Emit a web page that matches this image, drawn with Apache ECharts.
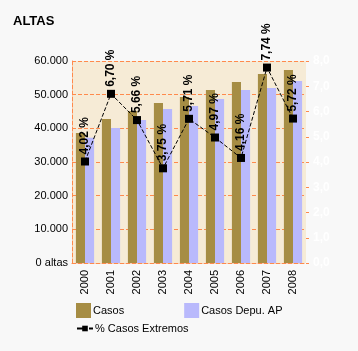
<!DOCTYPE html>
<html>
<head>
<meta charset="utf-8">
<script src="https://cdn.jsdelivr.net/npm/echarts@6/dist/echarts.min.js"></script>
<style>
html,body{margin:0;padding:0;background:#f8f8f8;}
#c{width:358px;height:351px;}
</style>
</head>
<body>
<div id="c"></div>
<script>
const years = ['2000','2001','2002','2003','2004','2005','2006','2007','2008'];
const casos = [38600, 42800, 45150, 47500, 49300, 51400, 53750, 56150, 57300];
const casosDepu = [37200, 40100, 42500, 45750, 46650, 48700, 51400, 52000, 54050];
const pctExtremos = [4.02, 6.70, 5.66, 3.75, 5.71, 4.97, 4.16, 7.74, 5.72];
const leftTicks = { min: 0, max: 60000, interval: 10000 };
const rightTicks = { min: 0, max: 8, interval: 1 };

const FONT = 'Liberation Sans, Arial, sans-serif';
const ORANGE = '#ff8a4c';

function fmtThousands(v) {
  if (v === 0) return '0 altas';
  return String(v).replace(/\B(?=(\d{3})+(?!\d))/g, '.');
}

const chart = echarts.init(document.getElementById('c'), null, {renderer: 'canvas'});
chart.setOption({
  backgroundColor: '#f8f8f8',
  animation: false,
  textStyle: { fontFamily: FONT },
  title: {
    text: 'ALTAS', left: 8, top: 10,
    textStyle: { fontSize: 13, fontWeight: 'bold', color: '#000', fontFamily: FONT }
  },
  legend: [
    {
      data: ['Casos', 'Casos Depu. AP'],
      left: 71, top: 298, orient: 'horizontal',
      itemWidth: 15, itemHeight: 15, itemGap: 60,
      icon: 'rect',
      textStyle: { fontSize: 11, color: '#000', fontFamily: FONT, padding: [0,0,0,-3] }
    },
    {
      data: ['% Casos Extremos'],
      left: 71, top: 318,
      itemWidth: 16, itemHeight: 7,
      textStyle: { fontSize: 11, color: '#000', fontFamily: FONT, padding: [0,0,0,-3] }
    }
  ],
  grid: {
    left: 72, right: 52, top: 61, bottom: 88,
    show: true, backgroundColor: '#f6ebd6', borderWidth: 0
  },
  xAxis: {
    type: 'category', data: years,
    axisLine: { show: true, lineStyle: { color: ORANGE, type: 'dashed', width: 1 } },
    axisTick: { show: false },
    axisLabel: { rotate: 90, fontSize: 11, color: '#000', margin: 7, fontFamily: FONT }
  },
  yAxis: [
    {
      type: 'value', min: leftTicks.min, max: leftTicks.max, interval: leftTicks.interval,
      axisLine: { show: true, lineStyle: { color: ORANGE, type: 'dashed', width: 1 } },
      axisTick: { show: false },
      splitLine: { show: true, lineStyle: { color: ORANGE, type: 'dashed', width: 1 } },
      axisLabel: { fontSize: 11, color: '#000', margin: 4, formatter: fmtThousands, fontFamily: FONT }
    },
    {
      type: 'value', min: rightTicks.min, max: rightTicks.max, interval: rightTicks.interval,
      position: 'right',
      axisLine: { show: false },
      axisTick: { show: true, length: 3, lineStyle: { color: ORANGE } },
      splitLine: { show: false },
      axisLabel: {
        fontSize: 12, fontWeight: 'bold', color: '#ffffff', margin: 7, fontFamily: FONT,
        formatter: v => v.toFixed(1).replace('.', ',')
      }
    }
  ],
  series: [
    {
      name: 'Casos', type: 'bar', data: casos,
      itemStyle: { color: '#a68d44' },
      barGap: '0%', barCategoryGap: '30%'
    },
    {
      name: 'Casos Depu. AP', type: 'bar', data: casosDepu,
      itemStyle: { color: '#b9b9fc' },
      barGap: '0%', barCategoryGap: '30%'
    },
    {
      name: '% Casos Extremos', type: 'line', yAxisIndex: 1, data: pctExtremos,
      symbol: 'rect', symbolSize: 8,
      itemStyle: { color: '#000' },
      lineStyle: { color: '#000', width: 1, type: 'dashed' },
      label: {
        show: true, position: 'top', rotate: 90, align: 'left', verticalAlign: 'middle',
        distance: 3, fontSize: 12, fontWeight: 'bold', color: '#000', fontFamily: FONT,
        formatter: p => p.value.toFixed(2).replace('.', ',') + ' %'
      },
      z: 5
    }
  ]
});
</script>
</body>
</html>
